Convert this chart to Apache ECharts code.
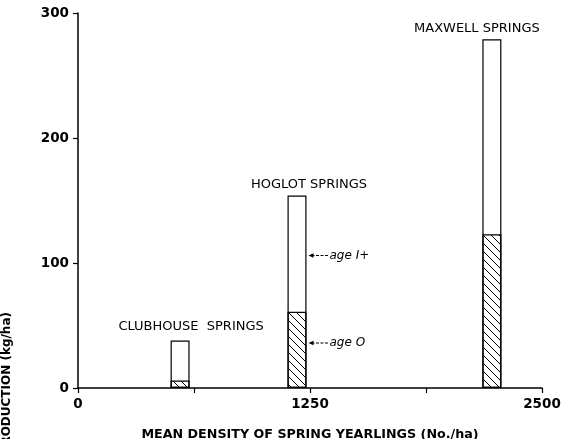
<!DOCTYPE html>
<html><head><meta charset="utf-8">
<script src="https://cdn.jsdelivr.net/npm/echarts@6/dist/echarts.min.js"></script>
<style>html,body{margin:0;padding:0;background:#fff}#c{width:571px;height:439px}</style>
</head><body><div id="c"></div>
<script>
// ---- data ----
const sites = ['CLUBHOUSE  SPRINGS', 'HOGLOT SPRINGS', 'MAXWELL SPRINGS'];
const density = [550, 1180, 2230];      // mean density of spring yearlings (No./ha)
const age0 = [6, 61, 123];              // production of age 0 (kg/ha)
const age1plus = [32, 93, 156];         // production of age I+ (kg/ha)
const xTickLabels = [0, 1250, 2500];
const yTickLabels = [0, 100, 200, 300];
const annotations = [{ text: 'age I+', site: 1, value: 106 }, { text: 'age O', site: 1, value: 36 }];

// ---- style ----
const labelOffsets = [[11, -1], [12, 2], [-15, 2]];
const BAR_W = 19;
const FONT = 'DejaVu Sans';

const pc = document.createElement('canvas');
pc.width = 8; pc.height = 8;
const g = pc.getContext('2d');
g.strokeStyle = '#000'; g.lineWidth = 1;
g.beginPath();
g.moveTo(-1, -1); g.lineTo(9, 9);
g.moveTo(-1, 7); g.lineTo(1, 9);
g.moveTo(7, -1); g.lineTo(9, 1);
g.stroke();

const chart = echarts.init(document.getElementById('c'), null, { renderer: 'canvas' });
const totals = age0.map((v, i) => v + age1plus[i]);

chart.setOption({
  animation: false,
  backgroundColor: '#fff',
  grid: { left: 78, right: 29, top: 13, bottom: 51, containLabel: false, outerBoundsMode: 'none' },
  xAxis: {
    type: 'value', min: 0, max: 2500, interval: 625,
    axisLine: { lineStyle: { color: '#000', width: 1.5 } },
    axisTick: { length: 5, lineStyle: { color: '#000', width: 1.2 } },
    splitLine: { show: false },
    axisLabel: {
      color: '#000', fontFamily: FONT, fontWeight: 'bold', fontSize: 13.5, margin: 9,
      formatter: v => xTickLabels.includes(v) ? String(v) : ''
    },
    name: 'MEAN DENSITY OF SPRING YEARLINGS (No./ha)',
    nameLocation: 'middle', nameGap: 40,
    nameTextStyle: { color: '#000', fontFamily: FONT, fontWeight: 'bold', fontSize: 12.7 }
  },
  yAxis: {
    type: 'value', min: 0, max: 300, interval: 100,
    axisLine: { show: true, lineStyle: { color: '#000', width: 1.5 } },
    axisTick: { show: true, length: 5, lineStyle: { color: '#000', width: 1.2 } },
    splitLine: { show: false },
    axisLabel: {
      color: '#000', fontFamily: FONT, fontWeight: 'bold', fontSize: 13.5, margin: 9,
      formatter: v => yTickLabels.includes(v) ? String(v) : ''
    }
  },
  series: [
    {
      name: 'total', type: 'bar', barWidth: BAR_W, z: 2,
      data: density.map((x, i) => ({
        value: [x, totals[i]],
        label: {
          show: true, position: 'top', distance: 6, offset: labelOffsets[i],
          formatter: sites[i], color: '#000', fontFamily: FONT, fontSize: 13
        }
      })),
      itemStyle: { color: '#fff', borderColor: '#000', borderWidth: 1.2 }
    },
    {
      name: 'age 0', type: 'bar', barWidth: BAR_W, barGap: '-100%', z: 3,
      data: density.map((x, i) => [x, age0[i]]),
      itemStyle: { color: { image: pc, repeat: 'repeat' }, borderColor: '#000', borderWidth: 1.2 }
    }
  ]
});

// y-axis title (partly cut off at the bottom, as in the original)
const graphics = [{
  type: 'text', x: 7, y: 312, rotation: Math.PI / 2,
  style: {
    text: 'PRODUCTION (kg/ha)', fill: '#000', fontFamily: FONT, fontWeight: 'bold', fontSize: 12,
    textAlign: 'right', textVerticalAlign: 'middle'
  }
}];

annotations.forEach(a => {
  const p = chart.convertToPixel({ gridIndex: 0 }, [density[a.site], a.value]);
  const x0 = p[0] + BAR_W / 2 + 2;
  const y = p[1];
  graphics.push({
    type: 'line', shape: { x1: x0 + 3, y1: y, x2: x0 + 20, y2: y },
    style: { stroke: '#000', lineWidth: 1, lineDash: [3, 1.5] }
  });
  graphics.push({
    type: 'polygon', shape: { points: [[x0, y], [x0 + 5, y - 2.2], [x0 + 5, y + 2.2]] },
    style: { fill: '#000' }
  });
  graphics.push({
    type: 'text', x: x0 + 21, y: y,
    style: {
      text: a.text, fill: '#000', fontFamily: FONT, fontStyle: 'italic', fontSize: 12,
      textAlign: 'left', textVerticalAlign: 'middle'
    }
  });
});
chart.setOption({ graphic: graphics });
</script>
</body></html>
